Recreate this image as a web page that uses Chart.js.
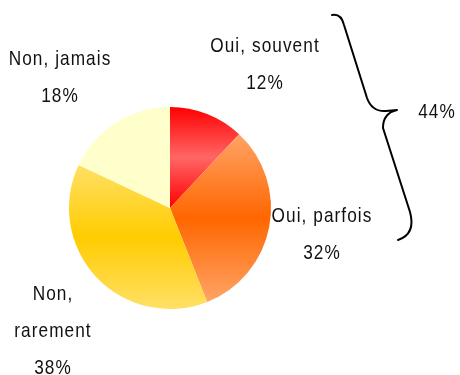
<!DOCTYPE html>
<html>
<head>
<meta charset="utf-8">
<script src="https://cdn.jsdelivr.net/npm/chart.js@4.4.0/dist/chart.umd.min.js"></script>
<style>
  html, body { margin: 0; padding: 0; background: #fff; }
  #wrap { width: 460px; height: 375px; }
</style>
</head>
<body>
<div id="wrap"><canvas id="pieChart" width="460" height="375"></canvas></div>
<script>
// chart data
const categories = [['Oui, souvent'], ['Oui, parfois'], ['Non,', 'rarement'], ['Non, jamais']];
const percents = [12, 32, 38, 18];
const bracedSlices = [0, 1]; // "Oui" answers grouped by the brace

// colours: [edge, middle] of each vertical gradient
const sliceColors = [
    ['#ff0000', '#ff6666'],
    ['#ffa466', '#ff6600'],
    ['#ffe066', '#ffcc00'],
    ['#ffffcc', '#ffffcc']
];

// label anchors: centre x, first baseline y
const labelAnchors = [[265, 52], [322, 222], [53, 300], [60, 65]];
const lineGap = 37;
const labelFont = '21px "Liberation Sans", Arial, sans-serif';
const narrow = 0.82; // squeeze to imitate Arial Narrow

function sliceGradient(context) {
    const chart = context.chart;
    const i = context.dataIndex;
    const area = chart.chartArea;
    const colors = sliceColors[i];
    if (!area) return colors[1];

    const cx = (area.left + area.right) / 2;
    const cy = (area.top + area.bottom) / 2;
    const r = Math.min(area.right - area.left, area.bottom - area.top) / 2;
    const total = percents.reduce((a, b) => a + b, 0);
    let before = 0;
    for (let k = 0; k < i; k++) before += percents[k];
    const a0 = -Math.PI / 2 + before / total * Math.PI * 2;
    const a1 = a0 + percents[i] / total * Math.PI * 2;

    let ymin = cy, ymax = cy;
    for (let s = 0; s <= 60; s++) {
        const y = cy + r * Math.sin(a0 + (a1 - a0) * s / 60);
        ymin = Math.min(ymin, y);
        ymax = Math.max(ymax, y);
    }
    const g = chart.ctx.createLinearGradient(0, ymin, 0, ymax);
    g.addColorStop(0, colors[0]);
    g.addColorStop(0.5, colors[1]);
    g.addColorStop(1, colors[0]);
    return g;
}

function narrowText(ctx, text, x, y) {
    ctx.save();
    ctx.translate(x, y);
    ctx.scale(narrow, 1);
    ctx.fillText(text, 0, 0);
    ctx.restore();
}

const labelPlugin = {
    id: 'sliceLabels',
    afterDraw(chart) {
        const ctx = chart.ctx;
        ctx.save();
        ctx.font = labelFont;
        ctx.letterSpacing = '1.3px';
        ctx.fillStyle = '#111';
        ctx.textAlign = 'center';
        ctx.textBaseline = 'alphabetic';
        categories.forEach((lines, i) => {
            const [x, y] = labelAnchors[i];
            const all = lines.concat([percents[i] + '%']);
            all.forEach((t, j) => narrowText(ctx, t, x, y + j * lineGap));
        });

        // brace grouping the "Oui" slices
        ctx.strokeStyle = '#000';
        ctx.lineWidth = 2;
        ctx.lineJoin = 'round';
        ctx.lineCap = 'round';
        ctx.beginPath();
        ctx.moveTo(332, 15);
        ctx.quadraticCurveTo(341, 13, 344, 25);
        ctx.lineTo(367, 98);
        ctx.quadraticCurveTo(372, 112, 386, 111);
        ctx.lineTo(397, 110);
        ctx.quadraticCurveTo(383, 113, 383, 128);
        ctx.lineTo(410, 212);
        ctx.quadraticCurveTo(416, 234, 398, 240);
        ctx.stroke();

        const sum = bracedSlices.reduce((a, k) => a + percents[k], 0);
        narrowText(ctx, sum + '%', 437, 118);
        ctx.restore();
    }
};

new Chart(document.getElementById('pieChart'), {
    type: 'pie',
    data: {
        labels: categories.map(l => l.join(' ')),
        datasets: [{
            data: percents,
            backgroundColor: sliceGradient,
            borderWidth: 0
        }]
    },
    options: {
        responsive: false,
        animation: false,
        layout: { padding: { left: 69, right: 189, top: 107, bottom: 66 } },
        plugins: {
            legend: { display: false },
            tooltip: { enabled: false }
        }
    },
    plugins: [labelPlugin]
});
</script>
</body>
</html>
